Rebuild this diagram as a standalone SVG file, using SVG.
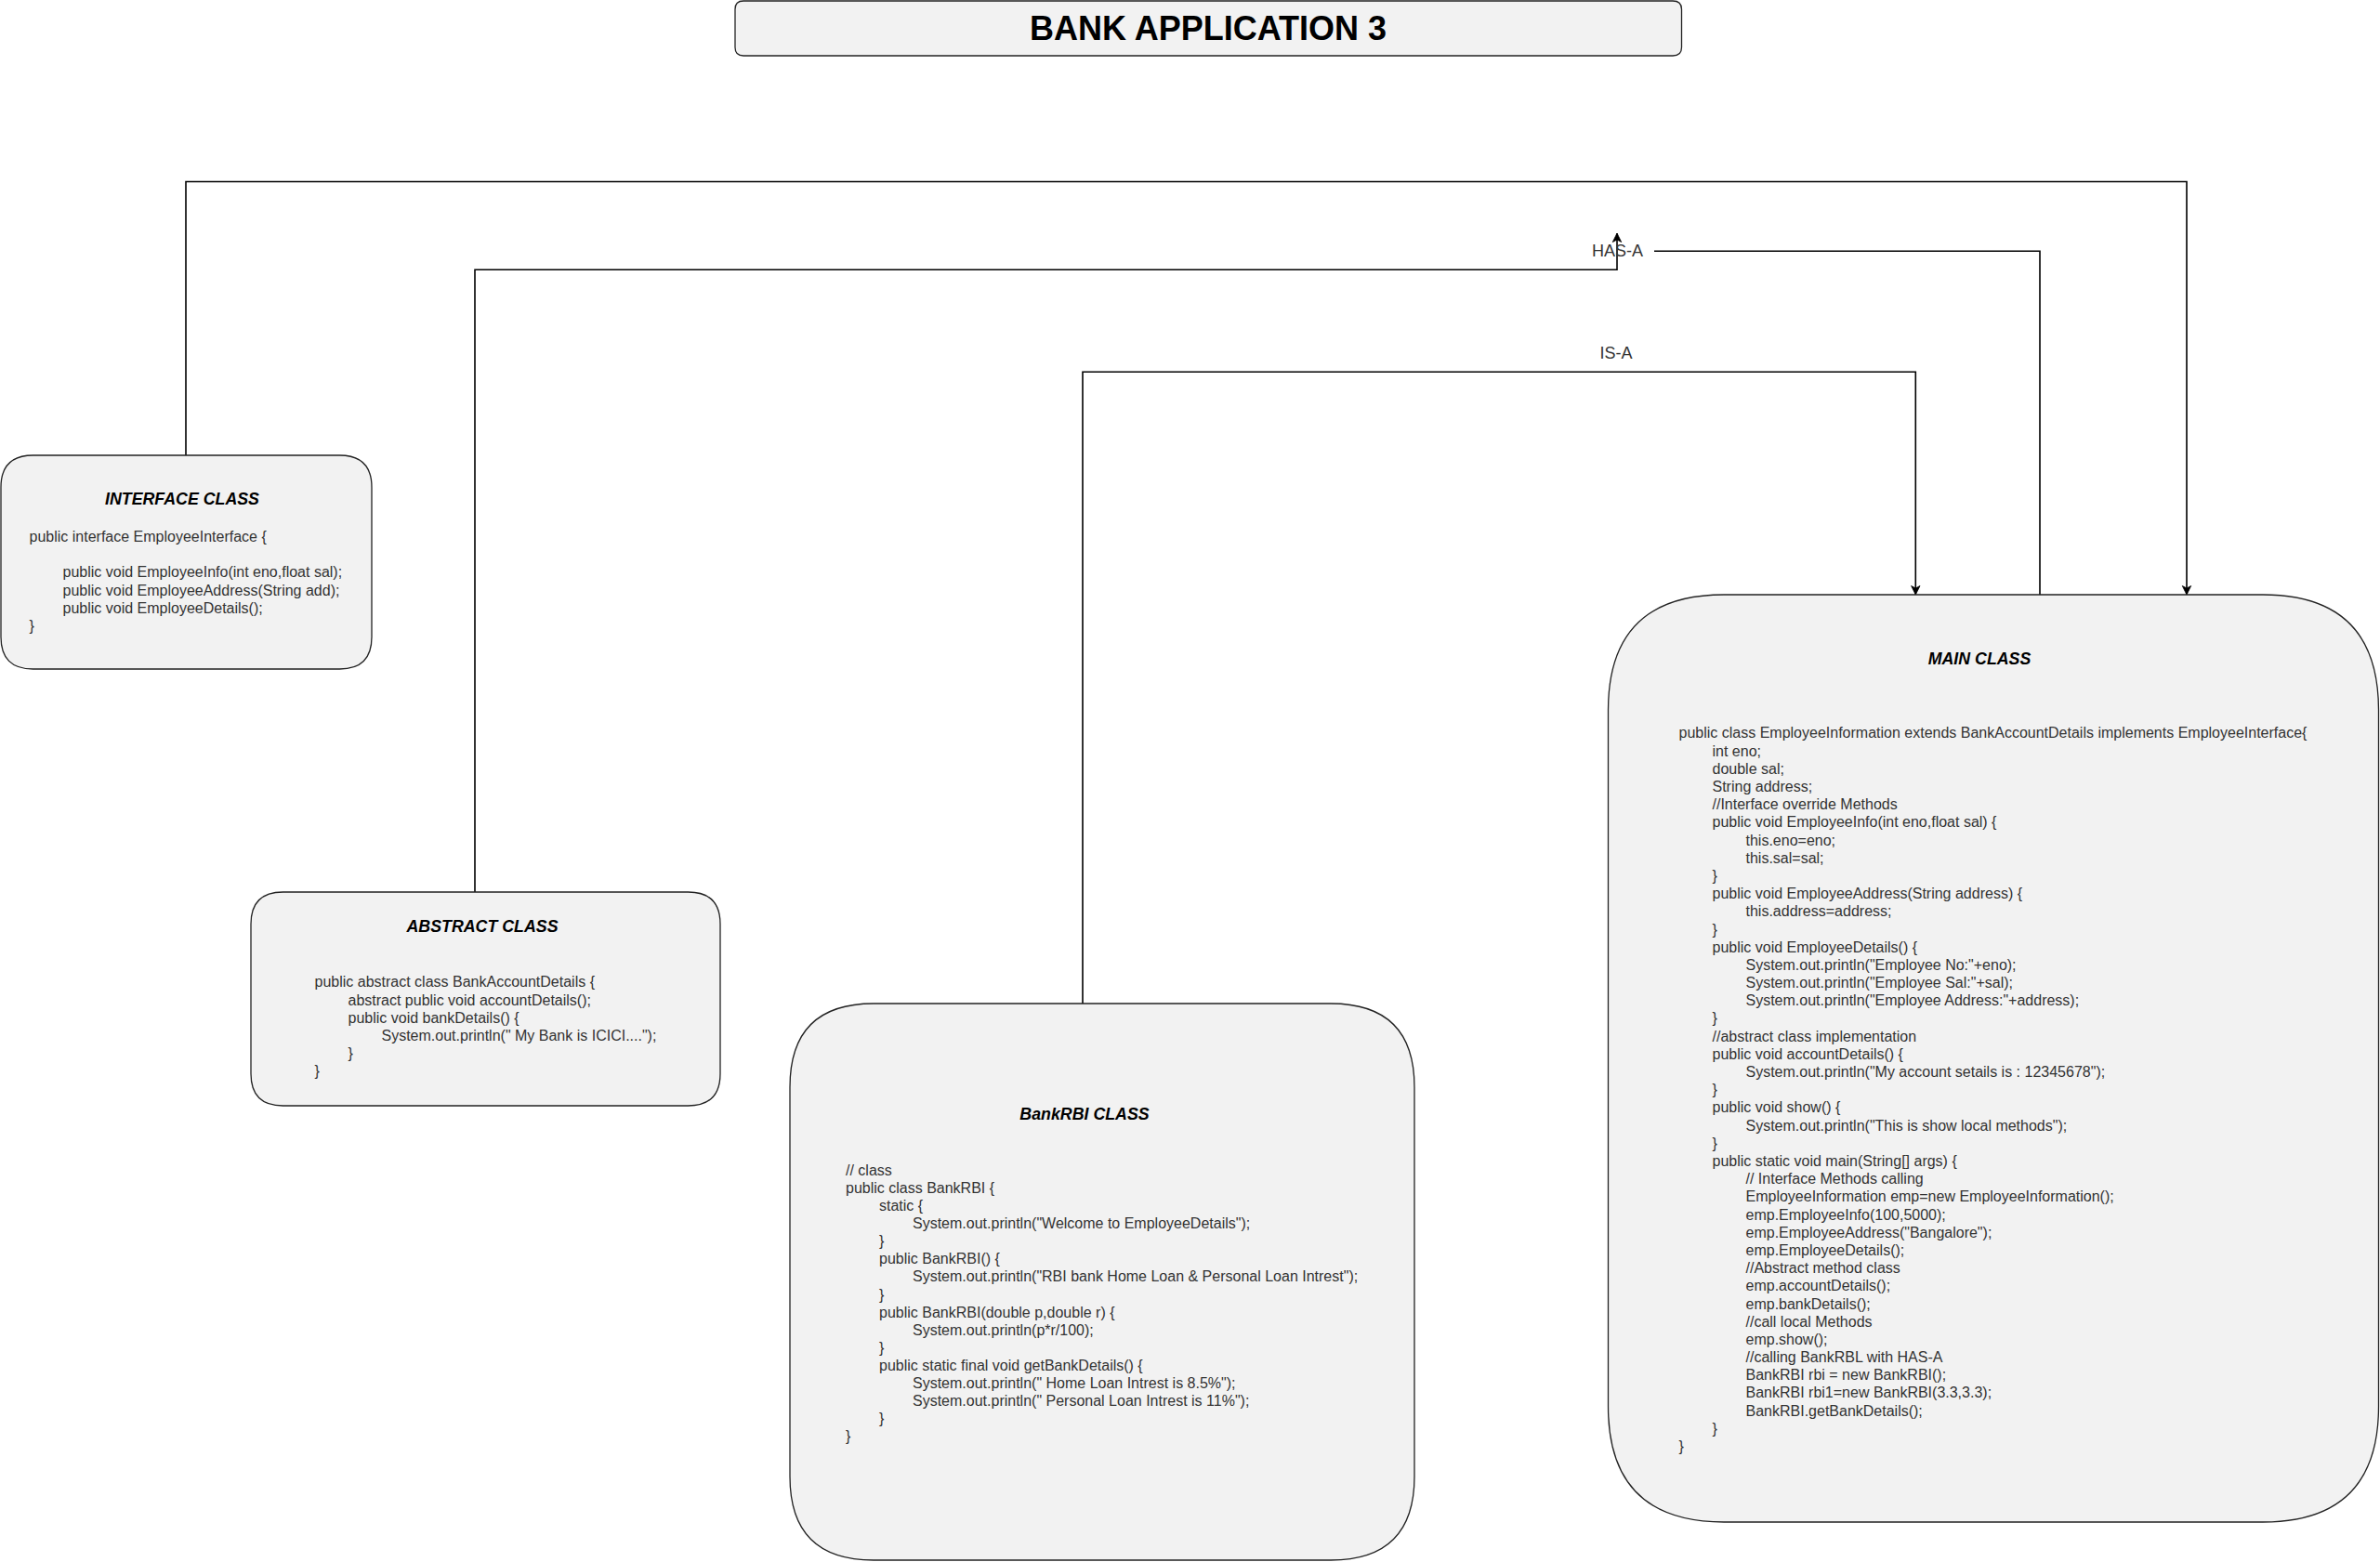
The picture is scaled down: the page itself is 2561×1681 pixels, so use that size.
<svg xmlns="http://www.w3.org/2000/svg" width="2561" height="1681" viewBox="0 0 2561 1681">
<style>
.box{fill:#f2f2f2;stroke:#222;stroke-width:1.3}
.code{font-family:"Liberation Sans",Arial,sans-serif;font-size:16px;fill:#333;white-space:pre}
.ttl{font-family:"Liberation Sans",Arial,sans-serif;font-size:17.8px;font-weight:bold;font-style:italic;fill:#000;text-anchor:middle}
.lbl{font-family:"Liberation Sans",Arial,sans-serif;font-size:18px;fill:#333;text-anchor:middle}
.edge{fill:none;stroke:#000;stroke-width:1.6}
</style>
<defs>
<marker id="arr" viewBox="-11 -6 12 12" refX="0" refY="0" markerWidth="12" markerHeight="12" orient="auto" markerUnits="userSpaceOnUse">
<path d="M0,0 L-9.5,-4.7 L-7,0 L-9.5,4.7 Z" fill="#000" stroke="#000" stroke-width="0.8"/>
</marker>
</defs>
<rect x="0" y="0" width="2561" height="1681" fill="#fff"/>

<g id="title">
<path class="box" d="M800,1 H1800 Q1809.5,1 1809.5,10 V51 Q1809.5,60 1800,60 H800 Q791,60 791,51 V10 Q791,1 800,1 Z"/>
<text x="1300" y="42.7" text-anchor="middle" style="font-family:'Liberation Sans',Arial,sans-serif;font-size:36px;font-weight:bold;fill:#000">BANK APPLICATION 3</text>
</g>

<g id="connectors">
<path class="edge" d="M200,490 V195.5 H2353 V640" marker-end="url(#arr)"/>
<path class="edge" d="M511,960 V290.3 H1740 V251" marker-end="url(#arr)"/>
<path class="edge" d="M2195,640 V270.3 H1780"/>
<path class="edge" d="M1165,1080 V400.3 H2061.3 V640" marker-end="url(#arr)"/>
</g>

<g id="label-has-a">
<text class="lbl" x="1740.5" y="276">HAS-A</text>
</g>
<g id="label-is-a">
<text class="lbl" x="1739" y="386">IS-A</text>
</g>

<g id="interface-class">
<path class="box" d="M35.5,490 H365.5 Q400,490 400,524.5 V685.5 Q400,720 365.5,720 H35.5 Q1,720 1,685.5 V524.5 Q1,490 35.5,490 Z"/>
<text class="ttl" x="196" y="543.3">INTERFACE CLASS</text>
<text class="code" x="31.5" y="583">public interface EmployeeInterface {</text>
<text class="code" x="67.5" y="621.4">public void EmployeeInfo(int eno,float sal);</text>
<text class="code" x="67.5" y="640.6">public void EmployeeAddress(String add);</text>
<text class="code" x="67.5" y="659.8">public void EmployeeDetails();</text>
<text class="code" x="31.5" y="679">}</text>
</g>

<g id="abstract-class">
<path class="box" d="M304.5,960 H740.5 Q775,960 775,994.5 V1155.5 Q775,1190 740.5,1190 H304.5 Q270,1190 270,1155.5 V994.5 Q270,960 304.5,960 Z"/>
<text class="ttl" x="519" y="1002.5">ABSTRACT CLASS</text>
<text class="code" x="338.5" y="1062.3">public abstract class BankAccountDetails {</text>
<text class="code" x="374.5" y="1081.5">abstract public void accountDetails();</text>
<text class="code" x="374.5" y="1100.7">public void bankDetails() {</text>
<text class="code" x="410.5" y="1119.9">System.out.println(" My Bank is ICICI....");</text>
<text class="code" x="374.5" y="1139.1">}</text>
<text class="code" x="338.5" y="1158.3">}</text>
</g>

<g id="bankrbi-class">
<path class="box" d="M940,1080 H1432 Q1522,1080 1522,1170 V1589 Q1522,1679 1432,1679 H940 Q850,1679 850,1589 V1170 Q850,1080 940,1080 Z"/>
<text class="ttl" x="1167" y="1205">BankRBI CLASS</text>
<text class="code" x="910" y="1264.8">// class</text>
<text class="code" x="910" y="1283.9">public class BankRBI {</text>
<text class="code" x="946" y="1303">static {</text>
<text class="code" x="982" y="1322.1">System.out.println("Welcome to EmployeeDetails");</text>
<text class="code" x="946" y="1341.2">}</text>
<text class="code" x="946" y="1360.3">public BankRBI() {</text>
<text class="code" x="982" y="1379.4">System.out.println("RBI bank Home Loan &amp; Personal Loan Intrest");</text>
<text class="code" x="946" y="1398.5">}</text>
<text class="code" x="946" y="1417.6">public BankRBI(double p,double r) {</text>
<text class="code" x="982" y="1436.7">System.out.println(p*r/100);</text>
<text class="code" x="946" y="1455.8">}</text>
<text class="code" x="946" y="1474.9">public static final void getBankDetails() {</text>
<text class="code" x="982" y="1494">System.out.println(" Home Loan Intrest is 8.5%");</text>
<text class="code" x="982" y="1513.1">System.out.println(" Personal Loan Intrest is 11%");</text>
<text class="code" x="946" y="1532.2">}</text>
<text class="code" x="910" y="1551.3">}</text>
</g>

<g id="main-class">
<path class="box" d="M1855,640 H2435 Q2559.5,640 2559.5,764.5 V1513.5 Q2559.5,1638 2435,1638 H1855 Q1730.5,1638 1730.5,1513.5 V764.5 Q1730.5,640 1855,640 Z"/>
<text class="ttl" x="2130" y="715">MAIN CLASS</text>
<text class="code" x="1806.5" y="794.4">public class EmployeeInformation extends BankAccountDetails implements EmployeeInterface{</text>
<text class="code" x="1842.5" y="813.6">int eno;</text>
<text class="code" x="1842.5" y="832.8">double sal;</text>
<text class="code" x="1842.5" y="852">String address;</text>
<text class="code" x="1842.5" y="871.2">//Interface override Methods</text>
<text class="code" x="1842.5" y="890.4">public void EmployeeInfo(int eno,float sal) {</text>
<text class="code" x="1878.5" y="909.5">this.eno=eno;</text>
<text class="code" x="1878.5" y="928.7">this.sal=sal;</text>
<text class="code" x="1842.5" y="947.9">}</text>
<text class="code" x="1842.5" y="967.1">public void EmployeeAddress(String address) {</text>
<text class="code" x="1878.5" y="986.3">this.address=address;</text>
<text class="code" x="1842.5" y="1005.5">}</text>
<text class="code" x="1842.5" y="1024.7">public void EmployeeDetails() {</text>
<text class="code" x="1878.5" y="1043.9">System.out.println("Employee No:"+eno);</text>
<text class="code" x="1878.5" y="1063.1">System.out.println("Employee Sal:"+sal);</text>
<text class="code" x="1878.5" y="1082.3">System.out.println("Employee Address:"+address);</text>
<text class="code" x="1842.5" y="1101.4">}</text>
<text class="code" x="1842.5" y="1120.6">//abstract class implementation</text>
<text class="code" x="1842.5" y="1139.8">public void accountDetails() {</text>
<text class="code" x="1878.5" y="1159">System.out.println("My account setails is : 12345678");</text>
<text class="code" x="1842.5" y="1178.2">}</text>
<text class="code" x="1842.5" y="1197.4">public void show() {</text>
<text class="code" x="1878.5" y="1216.6">System.out.println("This is show local methods");</text>
<text class="code" x="1842.5" y="1235.8">}</text>
<text class="code" x="1842.5" y="1255">public static void main(String[] args) {</text>
<text class="code" x="1878.5" y="1274.2">// Interface Methods calling</text>
<text class="code" x="1878.5" y="1293.3">EmployeeInformation emp=new EmployeeInformation();</text>
<text class="code" x="1878.5" y="1312.5">emp.EmployeeInfo(100,5000);</text>
<text class="code" x="1878.5" y="1331.7">emp.EmployeeAddress("Bangalore");</text>
<text class="code" x="1878.5" y="1350.9">emp.EmployeeDetails();</text>
<text class="code" x="1878.5" y="1370.1">//Abstract method class</text>
<text class="code" x="1878.5" y="1389.3">emp.accountDetails();</text>
<text class="code" x="1878.5" y="1408.5">emp.bankDetails();</text>
<text class="code" x="1878.5" y="1427.7">//call local Methods</text>
<text class="code" x="1878.5" y="1446.9">emp.show();</text>
<text class="code" x="1878.5" y="1466.1">//calling BankRBL with HAS-A</text>
<text class="code" x="1878.5" y="1485.2">BankRBI rbi = new BankRBI();</text>
<text class="code" x="1878.5" y="1504.4">BankRBI rbi1=new BankRBI(3.3,3.3);</text>
<text class="code" x="1878.5" y="1523.6">BankRBI.getBankDetails();</text>
<text class="code" x="1842.5" y="1542.8">}</text>
<text class="code" x="1806.5" y="1562">}</text>
</g>
</svg>
